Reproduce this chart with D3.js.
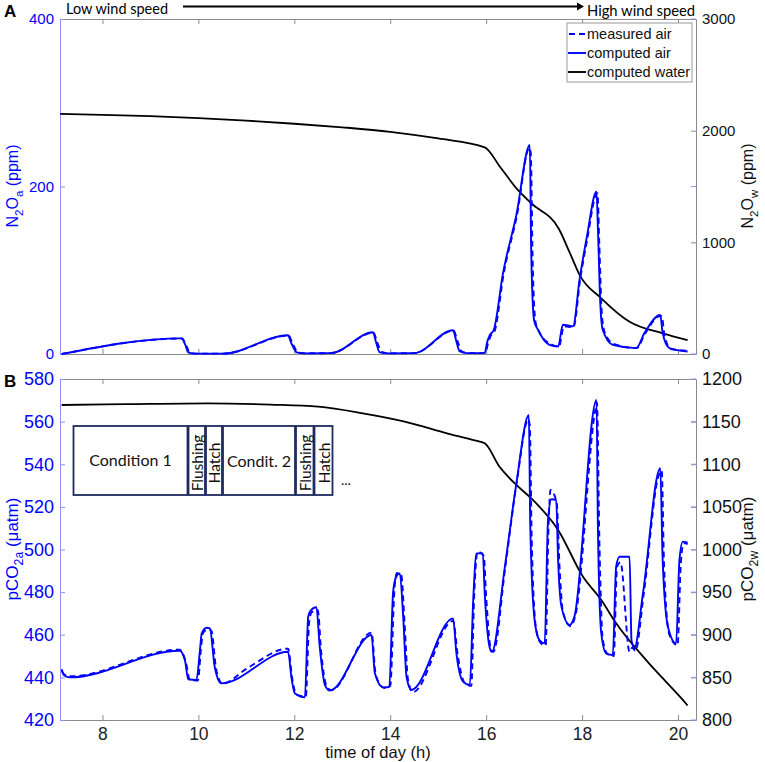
<!DOCTYPE html>
<html><head><meta charset="utf-8">
<script src="https://cdn.jsdelivr.net/npm/d3@7"></script>
<style>body{margin:0;background:#fff} svg{display:block}</style>
</head><body>
<script>
// ---------- DATA ----------
const xTicks = [8, 10, 12, 14, 16, 18, 20];
const ticksA_left = [0, 200, 400];
const ticksA_right = [0, 1000, 2000, 3000];
const ticksB_left = [420, 440, 460, 480, 500, 520, 540, 560, 580];
const ticksB_right = [800, 850, 900, 950, 1000, 1050, 1100, 1150, 1200];
const legendLabels = ["measured air", "computed air", "computed water"];
const insetLabels = ["Condition 1", "Flushing", "Hatch", "Condit. 2", "Flushing", "Hatch"];

// Panel A: N2O
const compA_t = [7.15,9.65,9.72,9.79,9.9,10.52, 11.87,11.93,12.05,12.2,12.76, 13.64,13.7,13.78,13.95,14.50, 15.31,15.37,15.45,15.6,15.97, 16.02,16.07,16.16,16.35,16.63,16.91,16.94,17.0,17.08, 17.32,17.50,17.60,17.81,17.95,18.1,18.30,18.33,18.38,18.43, 18.64,19.13,19.30,19.63,19.68,19.82,20.20];
const compA_v = [0,18.7,12,2,0.5,0.5, 22.3,14,2,0.8,1, 25.9,15,2,0.8,1, 28.3,17,3,1,1, 14,22,29,96,166,249.6,120,40,29, 11,9,35,33,90,140,193.8,150,60,29, 11,7,25,46.6,25,7,3];
const measA_t = [7.15,9.66,9.74,9.82,9.95,10.52, 11.88,11.96,12.08,12.25,12.76, 13.65,13.73,13.82,14.0,14.50, 15.32,15.40,15.49,15.65,15.98, 16.04,16.09,16.18,16.36,16.64,16.90,16.93,16.97,17.03,17.10, 17.34,17.52,17.62,17.82,17.96,18.11,18.29,18.32,18.36,18.41,18.47, 18.66,19.14,19.31,19.62,19.66,19.72,19.85,20.20];
const measA_v = [0,18.5,11,2,0.5,0.5, 22,13,2,0.8,1, 25.5,14,2.5,0.8,1, 28,16,3,1,1, 13,21,28,94,165,246,240,110,38,27, 12,9,33,32,89,138,190,192,130,50,26, 12,7,24,45,45,22,6,4];
const waterA_t = [7.12,8,9,10,11,12,13,14,15,15.97,16.3,16.66,16.94,17.52,17.75,17.95,18.40,18.99,19.68,20.20];
const waterA_v = [2150,2142,2130,2112,2090,2062,2030,1990,1930,1850,1670,1469,1350,1117,900,707,499,289,185,125];

// Panel B: pCO2
const compB_t = [7.15,7.2,7.32, 9.61,9.72,9.79,9.96, 10.03,10.07,10.17,10.24,10.34,10.48, 11.87,11.94,12.01,12.22, 12.29,12.33,12.46,12.53,12.64,12.74, 13.61,13.68,13.85,13.98, 14.06,14.12,14.2,14.27,14.34,14.44, 15.31,15.38,15.52,15.66,15.73,15.80,15.93,15.97, 16.07,16.12,16.39,16.63,16.89,16.92, 17.01,17.11,17.22,17.29,17.36,17.46,17.50,17.57,17.74,17.84, 18.30,18.33,18.40,18.50,18.64,18.71,18.78,18.99, 19.03,19.09,19.27,19.63,19.68,19.79,19.96, 20.03,20.10,20.20];
const compB_v = [443.8,441,440, 452.5,448,439.1,438.8, 452,460.7,463.3,463,445,437.2, 452,440,432.5,430.6, 468.5,471,472.9,454.4,436.4,433.8, 459.9,441.9,435.3,435.5, 480,487,488.8,468.5,440.3,434.1, 467.7,451.3,438,436.4,476.3,498.2,498.2,479.5, 454.4,452,491.9,531,563.1,510.7, 466.9,457.5,456,513.9,523.6,523.2,495.1,473.2,464.6,468.5, 570.2,510.7,460.7,451.3,450.5,491.9,496.6,496.6, 457.5,453.6,479.5,538.1,495.1,463.8,456, 495.1,503.7,503.2];
const measB_t = [7.15,7.2,7.32, 9.61,9.74,9.82,9.99, 10.06,10.1,10.2,10.27,10.37,10.5, 11.0,11.87,11.96, 12.04,12.24,12.31,12.36,12.49,12.56,12.67,12.77, 13.61,13.70,13.88, 14.0,14.09,14.14,14.23,14.30,14.37,14.47, 15.31,15.41,15.55,15.69,15.75,15.82,15.95, 16.0,16.10,16.15,16.4,16.64,16.88,16.91,16.95, 17.04,17.14,17.24,17.30,17.34,17.47,17.53,17.6,17.76,17.86, 18.28,18.31,18.36,18.43,18.53,18.66,18.73,18.80,18.99, 19.05,19.11,19.29,19.60,19.66,19.71,19.82,19.99, 20.06,20.12,20.20];
const measB_v = [443,441.5,440.5, 453,447,439,438.5, 455,461,462.5,462,444,437, 444,453.5,439, 432,431,466,470.5,471.5,452,436,434, 461,441,435, 436,482,489,488,465,439,433, 466.5,450,437.5,436,478,499,497, 478,453,452,492,532,561,558,505, 463,456,455,510,527.9,522,492,471,464,469, 566,569,505,458,451,450,492,494,452, 454,452.5,480,535,537,492,460,455, 494,503,502.5];
const waterB_t = [7.15,8.5,10.2,11.5,12.5,13.4,14.3,15.2,15.76,15.97,16.28,16.63,16.94,17.50,18.02,18.40,18.71,19.34,19.68,20.10,20.20];
const waterB_v = [1169.5,1170.5,1171.5,1170,1167.5,1160,1150,1136,1128,1124.6,1097,1075.7,1060,1023,968,940.8,913.4,870,849,823.5,817];

// ---------- LAYOUT ----------
const W = 765, H = 762;
const L = 60, R = 696;
const BLUE = "#0000ff", AXBLUE = "#9090ff", GRAY = "#8a8a8a";
const FONT = "'Liberation Sans', Arial, sans-serif";
const CAL = "Lato, 'Open Sans', sans-serif";
const fmt = d3.format("d");

const svg = d3.select("body").append("svg").attr("width", W).attr("height", H);
const x = d3.scaleLinear().domain([7.115, 20.375]).range([L, R]);

function zip(t, v) { return t.map((d, i) => [d, v[i]]); }

function panel(top, bottom, yDom, y2Dom, lt, rt, fs, showX) {
  const y = d3.scaleLinear().domain(yDom).range([bottom, top]);
  const y2 = d3.scaleLinear().domain(y2Dom).range([bottom, top]);
  const g = svg.append("g");
  const ta = g.append("g").attr("transform", `translate(0,${top})`)
    .call(d3.axisTop(x).tickValues(xTicks).tickSize(-5).tickSizeOuter(0).tickFormat(""));
  ta.select(".domain").attr("stroke", GRAY);
  ta.selectAll(".tick line").attr("stroke", GRAY);
  const ba = g.append("g").attr("transform", `translate(0,${bottom})`)
    .call(d3.axisBottom(x).tickValues(xTicks).tickSize(-5).tickSizeOuter(0).tickPadding(8)
      .tickFormat(showX ? fmt : ""));
  ba.select(".domain").attr("stroke", GRAY);
  ba.selectAll(".tick line").attr("stroke", GRAY);
  ba.selectAll("text").attr("font-family", FONT).attr("font-size", 17.5).attr("fill", "#222");
  const ra = g.append("g").attr("transform", `translate(${R},0)`)
    .call(d3.axisRight(y2).tickValues(rt).tickSize(-5).tickSizeOuter(0).tickPadding(6).tickFormat(fmt));
  ra.select(".domain").attr("stroke", GRAY);
  ra.selectAll(".tick line").attr("stroke", GRAY);
  ra.selectAll("text").attr("font-family", FONT).attr("font-size", fs).attr("fill", "#111");
  g.selectAll(".mt").data(lt).enter().append("line")
    .attr("x1", R - 5).attr("x2", R).attr("y1", d => y(d)).attr("y2", d => y(d))
    .attr("stroke", AXBLUE);
  const la = g.append("g").attr("transform", `translate(${L},0)`)
    .call(d3.axisLeft(y).tickValues(lt).tickSize(-5).tickSizeOuter(0).tickPadding(6).tickFormat(fmt));
  la.select(".domain").attr("stroke", AXBLUE);
  la.selectAll(".tick line").attr("stroke", AXBLUE);
  la.selectAll("text").attr("font-family", FONT).attr("font-size", fs).attr("fill", BLUE);
  return { y, y2 };
}

const A = panel(19, 354, [0, 400], [0, 3000], ticksA_left, ticksA_right, 15, false);
const B = panel(379, 720, [420, 580], [800, 1200], ticksB_left, ticksB_right, 18, true);

function drawLine(data, xs, ys, color, w, dash) {
  const p = svg.append("path").datum(data)
    .attr("fill", "none").attr("stroke", color).attr("stroke-width", w)
    .attr("stroke-linejoin", "round")
    .attr("d", d3.line().x(d => xs(d[0])).y(d => ys(d[1])).curve(d3.curveMonotoneX));
  if (dash) p.attr("stroke-dasharray", dash);
}

drawLine(zip(waterA_t, waterA_v), x, A.y2, "#000", 1.8);
drawLine(zip(compA_t, compA_v), x, A.y, BLUE, 1.9);
drawLine(zip(measA_t, measA_v), x, A.y, BLUE, 1.9, "6,4");
drawLine(zip(waterB_t, waterB_v), x, B.y2, "#000", 1.8);
drawLine(zip(compB_t, compB_v), x, B.y, BLUE, 1.9);
drawLine(zip(measB_t, measB_v), x, B.y, BLUE, 1.9, "6,4");

// ---------- Axis titles ----------
function vlabel(cx, cy, parts, fs, color) {
  const t = svg.append("text").attr("transform", `translate(${cx},${cy}) rotate(-90)`)
    .attr("text-anchor", "middle").attr("font-family", FONT).attr("font-size", fs).attr("fill", color);
  parts.forEach(p => {
    const s = t.append("tspan").text(p[0]);
    if (p[1] === "sub") s.attr("font-size", fs * 0.72).attr("dy", fs * 0.3);
    if (p[1] === "back") s.attr("dy", -fs * 0.3);
  });
}
vlabel(18, 186, [["N"], ["2", "sub"], ["O", "back"], ["a", "sub"], [" (ppm)", "back"]], 16, BLUE);
vlabel(753, 186, [["N"], ["2", "sub"], ["O", "back"], ["w", "sub"], [" (ppm)", "back"]], 16, "#111");
vlabel(18, 549, [["pCO"], ["2a", "sub"], [" (\u03bcatm)", "back"]], 17, BLUE);
vlabel(753, 549, [["pCO"], ["2w", "sub"], [" (\u03bcatm)", "back"]], 17, "#111");
svg.append("text").attr("x", (L + R) / 2).attr("y", 758).attr("text-anchor", "middle")
  .attr("font-family", FONT).attr("font-size", 16.5).attr("fill", "#111").text("time of day (h)");

svg.append("text").attr("x", 4).attr("y", 17).attr("font-family", FONT).attr("font-weight", "bold")
  .attr("font-size", 17).text("A");
svg.append("text").attr("x", 4).attr("y", 387).attr("font-family", FONT).attr("font-weight", "bold")
  .attr("font-size", 17).text("B");

// Wind speed arrow
svg.append("text").attr("x", 66).attr("y", 14).attr("font-family", CAL).attr("font-size", 15)
  .attr("textLength", 102).attr("lengthAdjust", "spacingAndGlyphs").text("Low wind speed");
svg.append("text").attr("x", 587).attr("y", 15.5).attr("font-family", CAL).attr("font-size", 15)
  .attr("textLength", 108).attr("lengthAdjust", "spacingAndGlyphs").text("High wind speed");
svg.append("line").attr("x1", 183).attr("x2", 577).attr("y1", 6.5).attr("y2", 6.5)
  .attr("stroke", "#000").attr("stroke-width", 2.2);
svg.append("path").attr("d", "M577,2.5 L584,6.5 L577,10.5 Z").attr("fill", "#000");

// Legend
const lg = svg.append("g");
lg.append("rect").attr("x", 567).attr("y", 23).attr("width", 125).attr("height", 59)
  .attr("fill", "#fff").attr("stroke", "#999");
const lstyles = [[BLUE, "6,4"], [BLUE, null], ["#000", null]];
legendLabels.forEach((lab, i) => {
  const yy = 34 + i * 19;
  const ln = lg.append("line").attr("x1", 568).attr("x2", 586).attr("y1", yy).attr("y2", yy)
    .attr("stroke", lstyles[i][0]).attr("stroke-width", 1.9);
  if (lstyles[i][1]) ln.attr("stroke-dasharray", lstyles[i][1]).attr("stroke-dashoffset", -1);
  lg.append("text").attr("x", 587).attr("y", yy + 5).attr("font-family", FONT).attr("font-size", 14.5)
    .attr("fill", "#111").text(lab);
});

// Inset schematic
const boxes = [[73.5, 187.5], [188.5, 205], [206, 222], [223, 295], [296, 313.5], [314.5, 332.5]];
const ig = svg.append("g");
boxes.forEach((b, i) => {
  ig.append("rect").attr("x", b[0]).attr("y", 426).attr("width", b[1] - b[0]).attr("height", 69)
    .attr("fill", "#fff").attr("stroke", "#1f2b5e").attr("stroke-width", 1.8);
  const cx = (b[0] + b[1]) / 2;
  if (i === 0 || i === 3) {
    ig.append("text").attr("x", cx).attr("y", i === 0 ? 466 : 467).attr("text-anchor", "middle")
      .attr("font-family", CAL).attr("font-size", 16).attr("fill", "#111").text(insetLabels[i]);
  } else {
    ig.append("text").attr("transform", `translate(${cx + 6},463) rotate(-90)`)
      .attr("text-anchor", "middle").attr("font-family", CAL).attr("font-size", 15.5).attr("fill", "#111")
      .text(insetLabels[i]);
  }
});
ig.append("text").attr("x", 341).attr("y", 485).attr("font-family", CAL).attr("font-size", 14)
  .attr("fill", "#111").text("...");
</script>
</body></html>
